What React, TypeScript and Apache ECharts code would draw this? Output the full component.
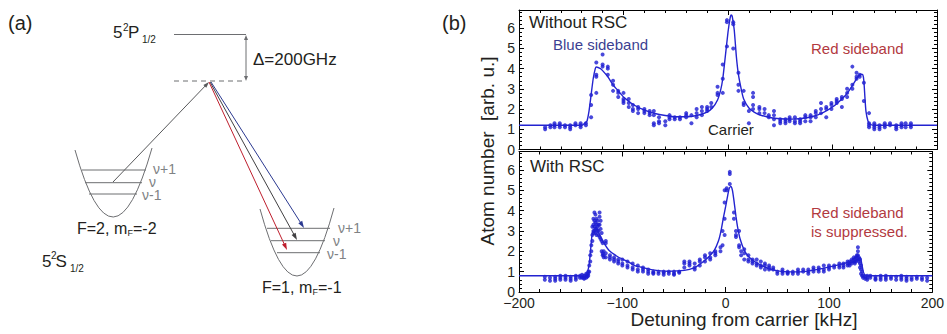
import React, { useEffect, useRef } from 'react';
import * as echarts from 'echarts';

const FONT = '"Liberation Sans", Arial, Helvetica, sans-serif';
const TEXT = '#231f20';
const DOT = '#1c1cd2';
const FIT = '#2323d0';

const xTickValues = [-200, -100, 0, 100, 200];
const yTickValues = [0, 1, 2, 3, 4, 5, 6];

// Panel 1: Without RSC (measured points, repeats per detuning)
const withoutRscDetuning = [
  -175, -170, -166, -161, -156, -151, -146, -141, -136, -131, -126, -120, -115, -110, -105, -100,
  -95, -91, -86, -80, -75, -71, -66, -60, -56, -51, -46, -40, -35, -30, -25, -20, -16, -10, -5, -1,
  5, 10, 15, 20, 24, 30, 35, 39, 44, 50, 55, 59, 64, 69, 74, 79, 84, 89, 94, 99, 104, 109, 114, 119,
  123, 126, 130, 135, 140, 145, 150, 155, 161, 166, 170, 175,
];
const withoutRscAtoms = [
  [1.1, 1.0], [1.2, 1.1], [1.3, 1.2, 1.1], [1.3, 1.2, 1.1], [1.2, 1.1], [1.2, 1.1, 1.0], [1.3, 1.2],
  [1.3, 1.2, 1.1], [1.3, 1.2], [2.7, 2.2, 1.6], [4.3, 3.7, 3.6, 2.8], [4.7, 4.2, 4.1], [4.1, 4.0, 3.7],
  [3.4, 3.2, 2.9], [2.9, 2.8, 2.6], [2.8, 2.5, 2.4, 2.3], [2.5, 2.3, 2.1], [2.2, 2.0, 1.9], [2.1, 2.0, 1.8],
  [2.0, 1.9, 1.8], [1.9, 1.8, 1.7], [1.9, 1.7, 1.3, 1.2], [1.6, 1.4, 1.3], [1.4, 1.2], [1.7, 1.6, 1.5],
  [1.6, 1.5], [1.6, 1.5], [1.8, 1.7, 1.6], [1.7, 1.3], [2.0, 1.8, 1.6], [2.1, 1.9, 1.7], [2.1, 2.0, 1.9],
  [2.3, 2.1], [3.1, 2.8, 2.7], [4.2, 3.5, 2.8], [6.4, 6.3, 5.1], [6.3, 6.2, 5.0], [3.8, 3.2, 2.9],
  [2.9, 2.3, 2.2], [1.9, 1.3], [2.8, 2.6, 2.2, 2.0], [2.1, 2.0, 1.8], [2.0, 1.8], [1.7, 1.6],
  [1.9, 1.7, 1.5, 1.2], [1.5, 1.4, 1.3], [1.5, 1.4, 1.3], [1.6, 1.5, 1.4], [1.6, 1.4, 1.3], [1.5, 1.4, 1.3],
  [1.7, 1.6, 1.4], [1.7, 1.6, 1.4], [1.9, 1.8, 1.6], [2.3, 2.0, 1.8], [2.1, 2.0, 1.6], [2.3, 2.2, 2.0],
  [2.5, 2.4, 2.3], [2.6, 2.5, 2.1], [3.0, 2.8, 2.6], [4.1, 3.2, 3.0], [3.8, 3.6, 3.5], [3.7, 3.6],
  [3.3, 2.4], [1.8, 1.3, 1.2, 1.1], [1.3, 1.2, 1.1, 1.0], [1.2, 1.1, 1.0], [1.3, 1.2, 1.1], [1.3, 1.2],
  [1.2, 1.1, 1.0], [1.3, 1.2, 1.1], [1.3, 1.1], [1.3, 1.2, 1.1],
];
const withoutRscFitDetuning = [
  -200, -140, -137, -135, -133, -131, -129, -127, -126, -122, -120, -115, -110, -105, -100, -90, -80, -70,
  -60, -50, -40, -30, -20, -15, -10, -7, -5, -3, 0, 2, 3, 4, 6, 8, 10, 13, 15, 20, 25, 30, 40, 50, 60, 70,
  80, 90, 100, 110, 115, 120, 125, 127, 129, 130, 131, 132, 134, 136, 140, 200,
];
const withoutRscFitAtoms = [
  1.2, 1.2, 1.3, 1.4, 1.9, 2.7, 3.5, 4.0, 4.08, 4.0, 3.9, 3.6, 3.2, 2.9, 2.6, 2.2, 1.95, 1.78,
  1.68, 1.62, 1.62, 1.68, 1.85, 2.05, 2.45, 2.95, 3.5, 4.4, 5.8, 6.5, 6.65, 6.6, 5.9, 4.6, 3.7, 2.9, 2.5,
  2.05, 1.85, 1.72, 1.58, 1.52, 1.5, 1.53, 1.62, 1.8, 2.1, 2.55, 2.85, 3.25, 3.65, 3.72, 3.7, 3.4, 2.6, 1.9,
  1.4, 1.25, 1.2, 1.2,
];

// Panel 2: With RSC
const withRscDetuning = [
  -175, -170, -165, -160, -155, -150, -145, -141, -139, -137, -135, -134, -133, -132, -131, -130, -129, -128,
  -127, -126, -125, -124, -123, -122, -121, -120, -119, -118, -116, -112, -108, -104, -100, -95, -90, -85,
  -80, -75, -70, -65, -60, -55, -50, -45, -40, -35, -30, -25, -20, -15, -10, -5, -3, -1, 1, 4, 8, 10, 13,
  15, 18, 22, 26, 30, 34, 38, 42, 46, 50, 55, 60, 65, 70, 75, 80, 85, 90, 95, 100, 105, 110, 114, 118, 120,
  122, 124, 125, 126, 127, 128, 129, 130, 131, 132, 133, 135, 137, 140, 145, 150, 155, 160, 165, 170, 175,
  180, 185, 190, 195,
];
const withRscAtoms = [
  [0.75, 0.6], [0.7, 0.55], [0.75, 0.65, 0.55], [0.8, 0.7, 0.6], [0.8, 0.7, 0.6], [0.75, 0.65, 0.55],
  [0.8, 0.7, 0.6], [0.8, 0.7], [0.85, 0.75, 0.7], [0.8, 0.7, 0.65], [0.9, 0.8, 0.7], [0.85, 0.75],
  [1.0, 0.9, 0.8], [1.3, 1.0], [1.8, 1.5], [2.3, 2.0], [3.2, 2.8, 2.5], [3.6, 3.3, 3.0, 2.9],
  [3.9, 3.5, 3.2, 3.0], [3.8, 3.4, 3.1, 2.9], [3.6, 3.3, 3.1, 2.8], [3.5, 3.2, 3.0], [3.3, 3.0, 2.8],
  [3.9, 3.7, 3.3, 2.7], [3.5, 3.1, 2.6], [2.9, 2.5, 2.0], [2.4, 1.9, 1.8], [2.0, 1.8, 1.7],
  [2.5, 2.4, 1.9, 1.7], [1.8, 1.7, 1.6], [1.7, 1.6, 1.5], [1.6, 1.5, 1.4], [1.6, 1.4, 1.3], [1.5, 1.3, 1.2],
  [1.4, 1.2, 1.1], [1.3, 1.1, 1.0], [1.2, 1.1, 1.0], [1.1, 1.0, 0.9], [1.0, 0.95, 0.9], [1.0, 0.9],
  [1.0, 0.95, 0.85], [1.0, 0.9], [1.0, 0.9, 0.85], [1.0, 0.95], [1.5, 1.4, 1.2], [1.5, 1.4, 1.3],
  [1.4, 1.2, 1.1], [1.6, 1.5, 1.3], [1.8, 1.7, 1.5], [1.9, 1.7, 1.6], [2.0, 1.9, 1.8], [2.2, 2.0],
  [3.0, 2.3], [5.0, 4.4, 3.6, 2.8], [5.1, 5.0], [5.9, 5.8, 5.3], [3.9, 3.6], [3.0, 2.8, 2.7],
  [3.0, 2.3, 2.2], [2.0, 1.8], [2.1, 1.9, 1.6], [1.8, 1.6, 1.5], [1.6, 1.5, 1.4], [1.6, 1.4, 1.3],
  [1.5, 1.3, 1.2], [1.4, 1.3, 1.1], [1.3, 1.2, 1.1], [1.2, 1.1], [1.0, 0.9], [1.1, 1.0, 0.9],
  [1.0, 0.95, 0.9], [1.0, 0.9], [1.1, 1.0, 0.9], [1.1, 1.0], [1.1, 1.0, 0.9], [1.2, 1.1, 1.0],
  [1.2, 1.1, 1.0], [1.3, 1.1, 1.0], [1.3, 1.2, 1.1], [1.3, 1.2], [1.4, 1.3, 1.2], [1.4, 1.3, 1.2],
  [1.5, 1.4, 1.3], [1.5, 1.4, 1.3], [1.6, 1.5, 1.4], [1.7, 1.6, 1.5], [1.6, 1.5, 1.4], [1.7, 1.6, 1.5],
  [1.8, 1.7, 1.6], [2.2, 2.0, 1.8], [1.7, 1.6, 1.5], [1.6, 1.4, 1.2], [1.3, 1.1, 0.9], [1.0, 0.8],
  [0.8, 0.7], [0.75, 0.65], [0.8, 0.7, 0.6], [0.8, 0.7], [0.75, 0.65, 0.6], [0.8, 0.7, 0.6],
  [0.8, 0.7, 0.6], [0.75, 0.65], [0.75, 0.6], [0.8, 0.7, 0.6], [0.75, 0.65, 0.55], [0.7, 0.6],
  [0.75, 0.65], [0.7, 0.6], [0.7, 0.55],
];
const withRscFitDetuning = [
  -200, -140, -136, -134, -132, -130.5, -129, -127, -124, -120, -113, -104, -95, -88, -80, -72, -56, -40,
  -30, -24, -17, -11, -7, -4.5, -2, 0, 2, 3.5, 5, 6.5, 8, 10, 11.5, 14, 18, 22, 28, 34, 40, 48, 56, 72, 88,
  104, 120, 126, 129, 130.5, 132, 133.5, 135, 137, 200,
];
const withRscFitAtoms = [
  0.8, 0.8, 0.85, 0.95, 1.4, 2.2, 2.9, 3.05, 3.0, 2.6, 2.05, 1.72, 1.5, 1.3, 1.2, 1.1, 1.02, 1.06,
  1.2, 1.4, 1.7, 2.05, 2.5, 3.0, 3.7, 4.2, 4.75, 5.1, 5.18, 5.0, 4.5, 3.7, 3.2, 2.6, 2.05, 1.75, 1.5, 1.32,
  1.18, 1.06, 1.0, 0.99, 1.1, 1.27, 1.48, 1.62, 1.7, 1.68, 1.3, 0.95, 0.83, 0.8, 0.8,
];

const toPoints = (xs: number[], ys: number[][]) => {
  const out: number[][] = [];
  xs.forEach((x, i) => ys[i].forEach((y) => out.push([x, y])));
  return out;
};
const toLine = (xs: number[], ys: number[]) => xs.map((x, i) => [x, ys[i]]);

const fmtX = (v: number) => (v < 0 ? '\u2212' + Math.abs(v) : String(v));

function xAxisCfg(gridIndex: number, position: string, showLabel: boolean) {
  return {
    type: 'value',
    gridIndex,
    position,
    min: xTickValues[0],
    max: xTickValues[xTickValues.length - 1],
    interval: xTickValues[1] - xTickValues[0],
    axisLine: { show: true, onZero: false, lineStyle: { color: '#000', width: 1 } },
    axisTick: { show: true, inside: true, length: 5, lineStyle: { color: '#000', width: 1 } },
    minorTick: { show: true, splitNumber: 5, length: 3, lineStyle: { color: '#000', width: 1 } },
    splitLine: { show: false },
    minorSplitLine: { show: false },
    axisLabel: {
      show: showLabel,
      margin: 5,
      fontSize: 14,
      lineHeight: 12,
      fontFamily: FONT,
      color: TEXT,
      formatter: fmtX,
    },
  };
}

function yAxisCfg(gridIndex: number, position: string, showLabel: boolean) {
  return {
    type: 'value',
    gridIndex,
    position,
    min: yTickValues[0],
    max: 6.9,
    interval: yTickValues[1] - yTickValues[0],
    axisLine: { show: true, onZero: false, lineStyle: { color: '#000', width: 1 } },
    axisTick: { show: true, inside: true, length: 5, lineStyle: { color: '#000', width: 1 } },
    minorTick: { show: true, splitNumber: 5, length: 3, lineStyle: { color: '#000', width: 1 } },
    splitLine: { show: false },
    minorSplitLine: { show: false },
    axisLabel: {
      show: showLabel,
      margin: 4,
      fontSize: 14,
      lineHeight: 12,
      fontFamily: FONT,
      color: TEXT,
      formatter: (v: number) => (yTickValues.includes(v) ? String(v) : ''),
    },
  };
}

function txt(x: number, y: number, text: string, size: number, fill = TEXT, align = 'left', extra: any = {}, lh?: number) {
  return {
    type: 'text',
    x,
    y,
    silent: true,
    ...extra,
    style: {
      text,
      fill,
      font: `${size}px ${FONT}`,
      textAlign: align,
      textVerticalAlign: 'middle',
      align,
      verticalAlign: 'middle',
      ...(lh ? { lineHeight: lh } : {}),
    },
  };
}

function ln(x1: number, y1: number, x2: number, y2: number, color: string, dash?: number[]) {
  return {
    type: 'line',
    silent: true,
    shape: { x1, y1, x2, y2 },
    style: { stroke: color, lineWidth: 1, lineDash: dash },
  };
}

function arrow(x1: number, y1: number, x2: number, y2: number, color: string, len = 6, w = 2.2) {
  const dx = x2 - x1;
  const dy = y2 - y1;
  const L = Math.hypot(dx, dy);
  const ux = dx / L;
  const uy = dy / L;
  const bx = x2 - ux * len;
  const by = y2 - uy * len;
  return [
    ln(x1, y1, bx + ux * 1, by + uy * 1, color),
    {
      type: 'polygon',
      silent: true,
      shape: { points: [[x2, y2], [bx - uy * w, by + ux * w], [bx + uy * w, by - ux * w]] },
      style: { fill: color },
    },
  ];
}

const GRAY = '#6d6e71';
const LGRAY = '#808285';

function diagram() {
  const els: any[] = [];
  els.push(txt(8, 23, '(a)', 20));
  els.push(txt(442, 23, '(b)', 20));
  // 5^2 P 1/2
  els.push(txt(113, 32, '5', 17));
  els.push(txt(123, 27, '2', 10));
  els.push(txt(128, 32, 'P', 17));
  els.push(txt(142, 39, '1/2', 10));
  els.push(ln(174, 34.5, 246, 34.5, GRAY));
  els.push(ln(174, 81, 246, 81, GRAY, [5, 4]));
  els.push(...arrow(246, 58, 246, 35, GRAY, 5, 2));
  els.push(...arrow(246, 58, 246, 81, GRAY, 5, 2));
  els.push(txt(253, 59.5, '\u0394=200GHz', 17));
  // left well
  els.push({
    type: 'bezierCurve',
    silent: true,
    shape: { x1: 75, y1: 150, x2: 152, y2: 148, cpx1: 113, cpy1: 285 },
    style: { stroke: GRAY, lineWidth: 1, fill: 'none' },
  });
  els.push(ln(82, 170, 146, 170, GRAY));
  els.push(ln(85, 182.7, 142, 182.7, GRAY));
  els.push(ln(89, 194, 137, 194, GRAY));
  els.push(txt(153, 169, '\u03bd+1', 14, LGRAY, 'left', {}, 11));
  els.push(txt(149, 182, '\u03bd', 14, LGRAY, 'left', {}, 11));
  els.push(txt(142, 195, '\u03bd-1', 14, LGRAY, 'left', {}, 11));
  els.push(txt(77, 228, 'F=2, m', 16));
  els.push(txt(127.5, 233, 'F', 9));
  els.push(txt(133, 228, '=-2', 16));
  els.push(txt(42, 261, '5', 17));
  els.push(txt(51, 255, '2', 10));
  els.push(txt(55.5, 261, 'S', 17));
  els.push(txt(70, 268, '1/2', 10));
  // right well
  els.push({
    type: 'bezierCurve',
    silent: true,
    shape: { x1: 260, y1: 209, x2: 334, y2: 208, cpx1: 297, cpy1: 343.5 },
    style: { stroke: GRAY, lineWidth: 1, fill: 'none' },
  });
  els.push(ln(267, 228.3, 330, 228.3, GRAY));
  els.push(ln(271, 240.7, 325, 240.7, GRAY));
  els.push(ln(277, 252.7, 320, 252.7, GRAY));
  els.push(txt(338, 228, '\u03bd+1', 14, LGRAY, 'left', {}, 11));
  els.push(txt(333, 241, '\u03bd', 14, LGRAY, 'left', {}, 11));
  els.push(txt(327, 254, '\u03bd-1', 14, LGRAY, 'left', {}, 11));
  els.push(txt(262, 287, 'F=1, m', 16));
  els.push(txt(312.5, 292, 'F', 9));
  els.push(txt(318, 287, '=-1', 16));
  // transitions
  els.push(...arrow(113, 182, 209, 82, '#58595b', 6, 2));
  els.push(...arrow(211, 82, 304, 228, '#2b3990', 7, 2.3));
  els.push(...arrow(210, 82, 297, 240, '#414042', 7, 2.3));
  els.push(...arrow(209, 82, 287, 250, '#be1e2d', 7, 2.3));
  return els;
}

function panelTexts() {
  return [
    txt(529, 22.5, 'Without RSC', 17),
    txt(553, 44, 'Blue sideband', 15, '#3c3f92'),
    txt(811, 48, 'Red sideband', 15, '#b23a3f'),
    txt(708, 129, 'Carrier', 15),
    txt(530, 166.5, 'With RSC', 17),
    txt(811, 212.5, 'Red sideband', 15, '#b23a3f'),
    txt(811, 231, 'is suppressed.', 15, '#b23a3f'),
    txt(744, 319, 'Detuning from carrier [kHz]', 19, TEXT, 'center'),
    txt(487, 151, 'Atom number  [arb. u.]', 19, TEXT, 'center', { rotation: Math.PI / 2 }),
  ];
}

export default function App() {
  const ref = useRef<HTMLDivElement>(null);
  useEffect(() => {
    if (!ref.current) return;
    const chart = echarts.init(ref.current, null, { renderer: 'svg' });
    chart.setOption({
      animation: false,
      backgroundColor: '#fff',
      grid: [
        { left: 519, top: 10, width: 418, height: 139.5 },
        { left: 519, top: 151.5, width: 418, height: 140.5 },
      ],
      xAxis: [
        xAxisCfg(0, 'bottom', false),
        xAxisCfg(0, 'top', false),
        xAxisCfg(1, 'bottom', true),
        xAxisCfg(1, 'top', false),
      ],
      yAxis: [
        yAxisCfg(0, 'left', true),
        yAxisCfg(0, 'right', false),
        yAxisCfg(1, 'left', true),
        yAxisCfg(1, 'right', false),
      ],
      series: [
        {
          name: 'Without RSC fit',
          type: 'line',
          xAxisIndex: 0,
          yAxisIndex: 0,
          data: toLine(withoutRscFitDetuning, withoutRscFitAtoms),
          showSymbol: false,
          smooth: 0.2,
          lineStyle: { color: FIT, width: 1.4 },
          silent: true,
        },
        {
          name: 'Without RSC',
          type: 'scatter',
          xAxisIndex: 0,
          yAxisIndex: 0,
          data: toPoints(withoutRscDetuning, withoutRscAtoms),
          symbolSize: 4,
          itemStyle: { color: DOT },
        },
        {
          name: 'With RSC fit',
          type: 'line',
          xAxisIndex: 2,
          yAxisIndex: 2,
          data: toLine(withRscFitDetuning, withRscFitAtoms),
          showSymbol: false,
          smooth: 0.2,
          lineStyle: { color: FIT, width: 1.4 },
          silent: true,
        },
        {
          name: 'With RSC',
          type: 'scatter',
          xAxisIndex: 2,
          yAxisIndex: 2,
          data: toPoints(withRscDetuning, withRscAtoms),
          symbolSize: 4,
          itemStyle: { color: DOT },
        },
      ],
      graphic: [...diagram(), ...panelTexts()],
    });
    return () => chart.dispose();
  }, []);
  return (
    <div
      ref={ref}
      style={{ position: 'fixed', left: 0, top: 0, width: 947, height: 334, background: '#fff' }}
    />
  );
}
